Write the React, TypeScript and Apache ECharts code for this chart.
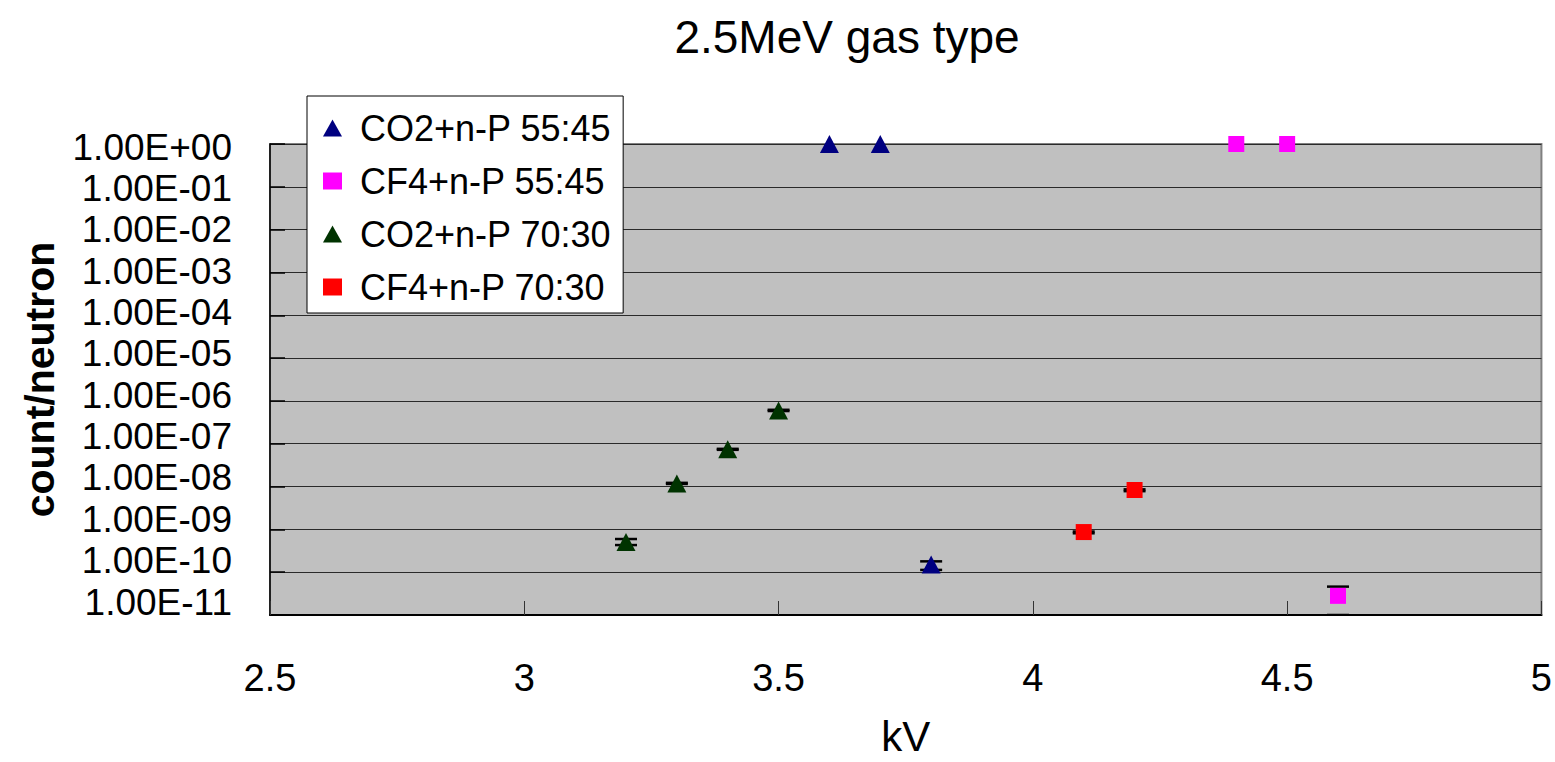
import React, { useEffect, useRef } from "react";
import * as echarts from "echarts";

// Gas-mixture detection efficiency versus anode voltage, 2.5 MeV neutrons
const TITLE = "2.5MeV gas type";
const X_NAME = "kV";
const Y_NAME = "count/neutron";

const X_MIN = 2.5;
const X_MAX = 5;
const X_STEP = 0.5;
const Y_MIN = 1e-11;
const Y_MAX = 1;

const SERIES_NAMES = [
  "CO2+n-P 55:45",
  "CF4+n-P 55:45",
  "CO2+n-P 70:30",
  "CF4+n-P 70:30",
];

// [kV, count/neutron]
const co2_55_45: [number, number][] = [
  [3.6, 1],
  [3.7, 1],
  [3.8, 1.52e-10],
];
const cf4_55_45: [number, number][] = [
  [4.4, 1],
  [4.5, 1],
  [4.6, 2.8e-11],
];
const co2_70_30: [number, number][] = [
  [3.2, 5.07e-10],
  [3.3, 1.18e-8],
  [3.4, 7.4e-8],
  [3.5, 6.0e-7],
];
const cf4_70_30: [number, number][] = [
  [4.1, 8.65e-10],
  [4.2, 8.3e-9],
];

// Error bars: [kV, lower, upper]
const errorBars: [number, number, number][] = [
  [3.2, 4.3e-10, 5.95e-10],
  [3.3, 1.15e-8, 1.22e-8],
  [3.4, 7.2e-8, 7.6e-8],
  [3.5, 5.8e-7, 6.2e-7],
  [3.8, 1.13e-10, 1.79e-10],
  [4.1, 8.1e-10, 8.9e-10],
  [4.2, 7.8e-9, 8.6e-9],
  [4.6, 1.0e-11, 4.6e-11],
];

const COLORS = ["#000080", "#ff00ff", "#003300", "#ff0000"];
const FONT = "'Liberation Sans', Arial, sans-serif";

const expLabel = (v: number) => {
  const e = Math.round(Math.log10(v));
  const sign = e < 0 ? "-" : "+";
  return `1.00E${sign}${String(Math.abs(e)).padStart(2, "0")}`;
};

export default function App() {
  const ref = useRef<HTMLDivElement>(null);

  useEffect(() => {
    if (!ref.current) return;
    const chart = echarts.init(ref.current, null, { renderer: "svg" });

    const triangle = { symbol: "triangle", symbolSize: [19, 18] };
    const square = { symbol: "rect", symbolSize: 16 };

    chart.setOption({
      animation: false,
      backgroundColor: "#ffffff",
      textStyle: { fontFamily: FONT },
      title: {
        text: TITLE,
        left: 842,
        top: 9,
        textAlign: "center",
        textStyle: {
          fontFamily: FONT,
          fontSize: 46,
          fontWeight: "normal",
          color: "#000",
        },
      },
      legend: {
        data: SERIES_NAMES,
        orient: "vertical",
        left: 307,
        top: 96,
        padding: [12, 12, 6, 16],
        itemGap: 13,
        itemWidth: 19,
        itemHeight: 17,
        selectedMode: false,
        backgroundColor: "#ffffff",
        borderColor: "#000000",
        borderWidth: 1,
        textStyle: {
          fontFamily: FONT,
          fontSize: 36,
          lineHeight: 40,
          color: "#000",
          padding: [0, 0, 0, 13],
        },
      },
      grid: [
        {
          left: 270,
          right: 10,
          top: 144,
          bottom: 141,
          show: true,
          backgroundColor: "#c0c0c0",
          borderColor: "#808080",
          borderWidth: 2,
        },
        // label-only grid carrying the decade labels of the value axis
        {
          left: 270,
          right: 10,
          top: 147,
          height: 455,
          show: false,
        },
      ],
      xAxis: [
        {
          type: "value",
          gridIndex: 0,
          min: X_MIN,
          max: X_MAX,
          interval: X_STEP,
          name: X_NAME,
          nameLocation: "middle",
          nameGap: 100,
          nameTextStyle: { fontFamily: FONT, fontSize: 42, color: "#000" },
          axisLine: { show: true, lineStyle: { color: "#000", width: 2 } },
          axisTick: {
            show: true,
            inside: true,
            length: 14,
            lineStyle: { color: "#333", width: 1 },
          },
          axisLabel: {
            fontFamily: FONT,
            fontSize: 38,
            color: "#000",
            margin: 44,
          },
          splitLine: { show: false },
        },
        {
          type: "value",
          gridIndex: 1,
          min: X_MIN,
          max: X_MAX,
          show: false,
        },
      ],
      yAxis: [
        {
          type: "log",
          gridIndex: 0,
          logBase: 10,
          min: Y_MIN,
          max: Y_MAX,
          interval: 1,
          name: Y_NAME,
          nameLocation: "middle",
          nameGap: 210,
          nameRotate: 90,
          nameTextStyle: {
            fontFamily: FONT,
            fontSize: 41,
            fontWeight: "bold",
            color: "#000",
            padding: [0, 0, 0, 0],
          },
          axisLine: { show: true, lineStyle: { color: "#000", width: 1.5 } },
          axisTick: {
            show: true,
            inside: true,
            length: 15,
            lineStyle: { color: "#000", width: 1.5 },
          },
          axisLabel: { show: false },
          splitLine: { show: true, lineStyle: { color: "#2a2a2a", width: 1 } },
        },
        {
          type: "log",
          gridIndex: 1,
          logBase: 10,
          min: Y_MIN,
          max: Y_MAX,
          interval: 1,
          axisLine: { show: false },
          axisTick: { show: false },
          splitLine: { show: false },
          axisLabel: {
            show: true,
            fontFamily: FONT,
            fontSize: 37,
            color: "#000",
            margin: 38,
            formatter: expLabel,
          },
        },
      ],
      series: [
        {
          name: "error",
          type: "custom",
          xAxisIndex: 0,
          yAxisIndex: 0,
          z: 1,
          clip: true,
          data: errorBars,
          encode: { x: 0, y: [1, 2] },
          renderItem: (params: any, api: any) => {
            const x = api.value(0);
            const lo = api.coord([x, api.value(1)]);
            const hi = api.coord([x, api.value(2)]);
            const w = 11;
            const style = { stroke: "#000", lineWidth: 2.5 };
            return {
              type: "group",
              children: [
                {
                  type: "line",
                  shape: { x1: hi[0] - w, y1: hi[1], x2: hi[0] + w, y2: hi[1] },
                  style,
                },
                {
                  type: "line",
                  shape: { x1: lo[0] - w, y1: lo[1], x2: lo[0] + w, y2: lo[1] },
                  style,
                },
              ],
            };
          },
        },
        {
          name: SERIES_NAMES[0],
          type: "scatter",
          ...triangle,
          z: 3,
          data: co2_55_45,
          itemStyle: { color: COLORS[0], opacity: 1 },
        },
        {
          name: SERIES_NAMES[1],
          type: "scatter",
          ...square,
          z: 3,
          data: cf4_55_45,
          itemStyle: { color: COLORS[1], opacity: 1 },
        },
        {
          name: SERIES_NAMES[2],
          type: "scatter",
          ...triangle,
          z: 3,
          data: co2_70_30,
          itemStyle: { color: COLORS[2], opacity: 1 },
        },
        {
          name: SERIES_NAMES[3],
          type: "scatter",
          ...square,
          z: 3,
          data: cf4_70_30,
          itemStyle: { color: COLORS[3], opacity: 1 },
        },
      ],
    });

    return () => chart.dispose();
  }, []);

  return (
    <div
      ref={ref}
      style={{ position: "fixed", left: 0, top: 0, width: 1555, height: 762 }}
    />
  );
}
